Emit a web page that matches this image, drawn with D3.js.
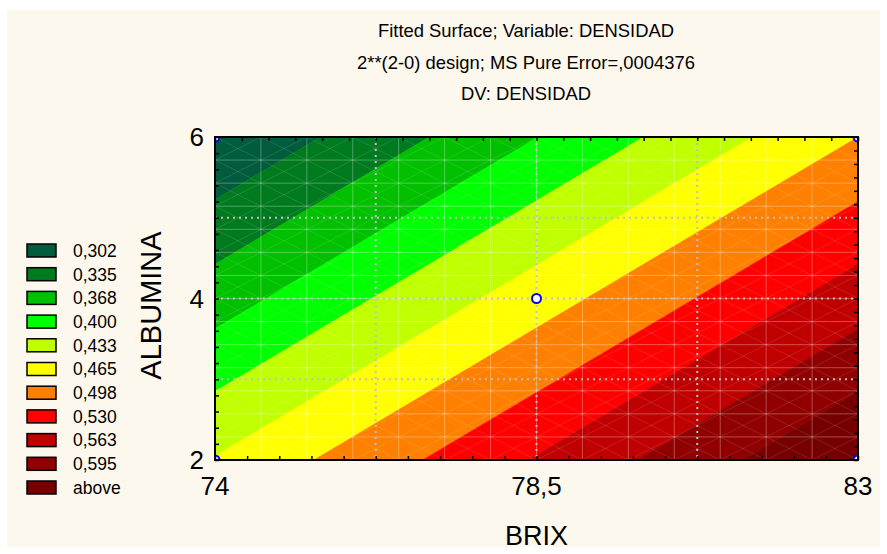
<!DOCTYPE html>
<html>
<head>
<meta charset="utf-8">
<script src="https://cdn.jsdelivr.net/npm/d3@7"></script>
<style>
body { margin: 0; background: #fff; }
svg { display: block; }
text { font-family: "Liberation Sans", Arial, sans-serif; fill: #000; }
</style>
</head>
<body>
<script>
// design factors and fitted DENSIDAD at the corners of the design
var brixLevels = [74, 83];
var albuminaLevels = [2, 6];
var fitted = [[0.435, 0.270],   // brix 74 : albumina 2, 6
              [0.630, 0.465]];  // brix 83 : albumina 2, 6
var designPoints = [[74, 2], [74, 6], [83, 2], [83, 6], [78.5, 4]];

var levels = [0.302, 0.335, 0.368, 0.400, 0.433, 0.465, 0.498, 0.530, 0.563, 0.595];
var legendLabels = ["0,302", "0,335", "0,368", "0,400", "0,433", "0,465", "0,498", "0,530", "0,563", "0,595", "above"];
var levelColors = ["#005c3c", "#007a1e", "#00c000", "#00ff00", "#bfff00", "#ffff00",
                   "#ff8000", "#ff0000", "#c00000", "#900000", "#760000"];

var xTicks = [74, 78.5, 83];
var xTickLabels = ["74", "78,5", "83"];
var yTicks = [2, 4, 6];
var yTickLabels = ["2", "4", "6"];
var xGrid = [76.25, 78.5, 80.75];
var yGrid = [3, 4, 5];

var titleLines = ["Fitted Surface; Variable: DENSIDAD",
                  "2**(2-0) design; MS Pure Error=,0004376",
                  "DV: DENSIDAD"];

var W = 887, H = 554;
var plot = {left: 215, top: 137, right: 858, bottom: 460};

var svg = d3.select("body").append("svg").attr("width", W).attr("height", H);
svg.append("rect").attr("x", 7).attr("y", 10).attr("width", 873).attr("height", 537).attr("fill", "#fdf8ee");

var x = d3.scaleLinear().domain(d3.extent(brixLevels)).range([plot.left, plot.right]);
var y = d3.scaleLinear().domain(d3.extent(albuminaLevels)).range([plot.bottom, plot.top]);

// bilinear surface through the four corner values
function z(p) {
  var u = (p[0] - brixLevels[0]) / (brixLevels[1] - brixLevels[0]);
  var v = (p[1] - albuminaLevels[0]) / (albuminaLevels[1] - albuminaLevels[0]);
  return fitted[0][0] * (1 - u) * (1 - v) + fitted[1][0] * u * (1 - v) +
         fitted[0][1] * (1 - u) * v + fitted[1][1] * u * v;
}

// clip polygon to z >= t (above) or z <= t
function clip(poly, t, above) {
  var out = [];
  for (var i = 0; i < poly.length; i++) {
    var a = poly[i], b = poly[(i + 1) % poly.length];
    var za = z(a) - t, zb = z(b) - t;
    var inA = above ? za >= 0 : za <= 0;
    var inB = above ? zb >= 0 : zb <= 0;
    if (inA) out.push(a);
    if (inA !== inB) {
      var k = za / (za - zb);
      out.push([a[0] + k * (b[0] - a[0]), a[1] + k * (b[1] - a[1])]);
    }
  }
  return out;
}

var box = [[brixLevels[0], albuminaLevels[0]], [brixLevels[1], albuminaLevels[0]],
           [brixLevels[1], albuminaLevels[1]], [brixLevels[0], albuminaLevels[1]]];

var bands = levelColors.map(function(c, i) {
  var poly = box;
  if (i > 0) poly = clip(poly, levels[i - 1], true);
  if (i < levels.length) poly = clip(poly, levels[i], false);
  return {color: c, poly: poly};
});

var line = d3.line().x(function(d) { return x(d[0]); }).y(function(d) { return y(d[1]); });

svg.append("clipPath").attr("id", "pc").append("rect")
  .attr("x", plot.left).attr("y", plot.top)
  .attr("width", plot.right - plot.left).attr("height", plot.bottom - plot.top);

var g = svg.append("g").attr("clip-path", "url(#pc)");

g.selectAll("path.band").data(bands.filter(function(b) { return b.poly.length > 2; }))
  .enter().append("path").attr("class", "band")
  .attr("d", function(d) { return line(d.poly) + "Z"; })
  .attr("fill", function(d) { return d.color; })
  .attr("stroke", function(d) { return d.color; })
  .attr("stroke-width", 0.6);

// surface mesh 14 x 14 with triangle diagonals
var nMesh = 14;
var mx = d3.range(nMesh + 1).map(function(i) { return brixLevels[0] + i * (brixLevels[1] - brixLevels[0]) / nMesh; });
var my = d3.range(nMesh + 1).map(function(i) { return albuminaLevels[0] + i * (albuminaLevels[1] - albuminaLevels[0]) / nMesh; });

var mesh = g.append("g").attr("stroke", "#fff").attr("fill", "none");
mesh.selectAll("line.v").data(mx).enter().append("line")
  .attr("x1", x).attr("x2", x).attr("y1", plot.top).attr("y2", plot.bottom)
  .attr("stroke-opacity", 0.3).attr("stroke-width", 1);
mesh.selectAll("line.h").data(my).enter().append("line")
  .attr("y1", y).attr("y2", y).attr("x1", plot.left).attr("x2", plot.right)
  .attr("stroke-opacity", 0.3).attr("stroke-width", 1);

var cells = [];
for (var i = 0; i < nMesh; i++) for (var j = 0; j < nMesh; j++) cells.push([i, j]);
mesh.selectAll("path.diag").data(cells).enter().append("path")
  .attr("d", function(c) {
    var x0 = x(mx[c[0]]), x1 = x(mx[c[0] + 1]), y0 = y(my[c[1]]), y1 = y(my[c[1] + 1]);
    return "M" + x0 + "," + y0 + "L" + x1 + "," + y1 + "M" + x0 + "," + y1 + "L" + x1 + "," + y0;
  })
  .attr("stroke-opacity", 0.15).attr("stroke-width", 0.8);

// dotted grid
g.selectAll("line.gx").data(xGrid).enter().append("line")
  .attr("x1", x).attr("x2", x).attr("y1", plot.top).attr("y2", plot.bottom)
  .attr("stroke", "#c0c0c0").attr("stroke-width", 2).attr("stroke-dasharray", "2,4");
g.selectAll("line.gy").data(yGrid).enter().append("line")
  .attr("y1", y).attr("y2", y).attr("x1", plot.left).attr("x2", plot.right)
  .attr("stroke", "#c0c0c0").attr("stroke-width", 2).attr("stroke-dasharray", "2,4");

// design points
g.selectAll("circle").data(designPoints).enter().append("circle")
  .attr("cx", function(d) { return x(d[0]); })
  .attr("cy", function(d) { return y(d[1]); })
  .attr("r", 4.5).attr("fill", "#fff").attr("stroke", "#0000ff").attr("stroke-width", 2);

// frame ticks
function tickVals(dom, n) { return d3.range(n + 1).map(function(i) { return dom[0] + i * (dom[1] - dom[0]) / n; }); }
var xd = x.domain(), yd = y.domain();
svg.append("g").attr("transform", "translate(0," + plot.bottom + ")")
  .call(d3.axisBottom(x).tickValues(tickVals(xd, 20)).tickSize(-4).tickFormat(""));
svg.append("g").attr("transform", "translate(0," + plot.top + ")")
  .call(d3.axisTop(x).tickValues(tickVals(xd, 24)).tickSize(-4).tickFormat(""));
svg.append("g").attr("transform", "translate(" + plot.left + ",0)")
  .call(d3.axisLeft(y).tickValues(tickVals(yd, 20)).tickSize(-4).tickFormat(""));
svg.append("g").attr("transform", "translate(" + plot.right + ",0)")
  .call(d3.axisRight(y).tickValues(tickVals(yd, 24)).tickSize(-4).tickFormat(""));
svg.selectAll(".domain").remove();
svg.selectAll(".tick line").attr("stroke", "#000").attr("stroke-width", 1.5);

svg.append("rect").attr("x", plot.left).attr("y", plot.top)
  .attr("width", plot.right - plot.left).attr("height", plot.bottom - plot.top)
  .attr("fill", "none").attr("stroke", "#000").attr("stroke-width", 2);

// tick labels
svg.selectAll("text.xl").data(xTicks).enter().append("text")
  .attr("x", x).attr("y", 495).attr("text-anchor", "middle")
  .style("font-size", "26px")
  .text(function(d, i) { return xTickLabels[i]; });
svg.selectAll("text.yl").data(yTicks).enter().append("text")
  .attr("x", 204).attr("y", y).attr("dy", "0.36em").attr("text-anchor", "end")
  .style("font-size", "26px")
  .text(function(d, i) { return yTickLabels[i]; });

svg.append("text").attr("x", (plot.left + plot.right) / 2).attr("y", 545)
  .attr("text-anchor", "middle").style("font-size", "27px").text("BRIX");
svg.append("text").attr("transform", "translate(161," + (plot.top + plot.bottom + 14) / 2 + ") rotate(-90)")
  .attr("text-anchor", "middle").style("font-size", "29px").text("ALBUMINA");

// title
svg.selectAll("text.title").data(titleLines).enter().append("text")
  .attr("x", 526).attr("y", function(d, i) { return 37 + i * 31.5; })
  .attr("text-anchor", "middle").style("font-size", "18.4px")
  .text(function(d) { return d; });

// legend
var leg = svg.append("g").attr("transform", "translate(27,244)");
var row = leg.selectAll("g").data(legendLabels).enter().append("g")
  .attr("transform", function(d, i) { return "translate(0," + i * 23.7 + ")"; });
row.append("rect").attr("width", 29).attr("height", 13)
  .attr("fill", function(d, i) { return levelColors[i]; })
  .attr("stroke", "#000").attr("stroke-width", 1.5);
row.append("text").attr("x", 46).attr("y", 6.5).attr("dy", "0.36em")
  .style("font-size", "17.5px").text(function(d) { return d; });
</script>
</body>
</html>
